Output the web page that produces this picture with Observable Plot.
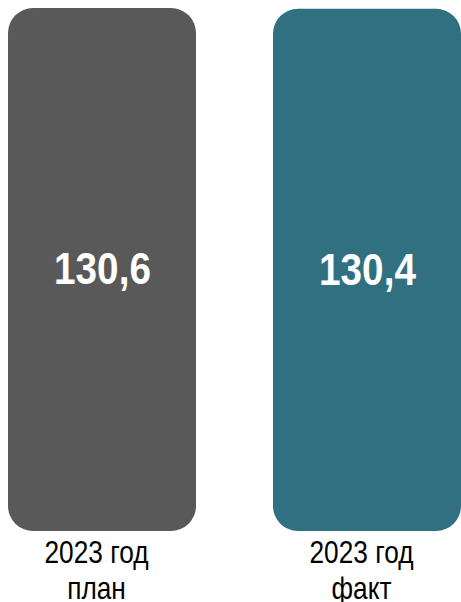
<!DOCTYPE html>
<html>
<head>
<meta charset="utf-8">
<script src="https://cdn.jsdelivr.net/npm/d3@7"></script>
<script src="https://cdn.jsdelivr.net/npm/@observablehq/plot@0.6"></script>
<style>
  html, body { margin: 0; padding: 0; background: #fff; }
  #chart svg { display: block; }
</style>
</head>
<body>
<div id="chart"></div>
<script>
const categories = ["2023 год\nплан", "2023 год\nфакт"];
const values = [130.6, 130.4];
const valueLabels = ["130,6", "130,4"];
const colors = ["#595959", "#317081"];

const data = categories.map((c, i) => ({category: c, value: values[i], label: valueLabels[i], color: colors[i]}));

const chart = Plot.plot({
  width: 461,
  height: 602,
  marginTop: 8,
  marginBottom: 71,
  marginLeft: 8,
  marginRight: -1,
  style: {fontFamily: "'Liberation Sans', Arial, sans-serif", background: "white"},
  x: {domain: categories, paddingInner: 0.29, paddingOuter: 0, axis: null},
  y: {domain: [0, 130.6], axis: null},
  marks: [
    Plot.barY(data, {x: "category", y: "value", fill: "color", rx: 25}),
    Plot.text(data, {
      x: "category", y: d => d.value / 2, text: "label",
      fill: "white", fontSize: 45, fontWeight: "bold", dy: 0,
      className: "value-label"
    }),
    Plot.text(data, {
      x: "category", y: 0, text: "category",
      lineAnchor: "top", lineHeight: 1.1, dy: 7, dx: -6,
      fill: "black", fontSize: 32,
      className: "cat-label"
    })
  ]
});
// condense the Arial-metric font to mimic Arial Narrow
chart.querySelectorAll(".value-label text").forEach(t => {
  const tr = t.getAttribute("transform") || "";
  t.setAttribute("transform", (tr + " scale(0.86,1)").trim());
});
chart.querySelectorAll(".cat-label text").forEach(t => {
  const tr = t.getAttribute("transform") || "";
  t.setAttribute("transform", (tr + " scale(0.82,1)").trim());
});
document.getElementById("chart").append(chart);
</script>
</body>
</html>
